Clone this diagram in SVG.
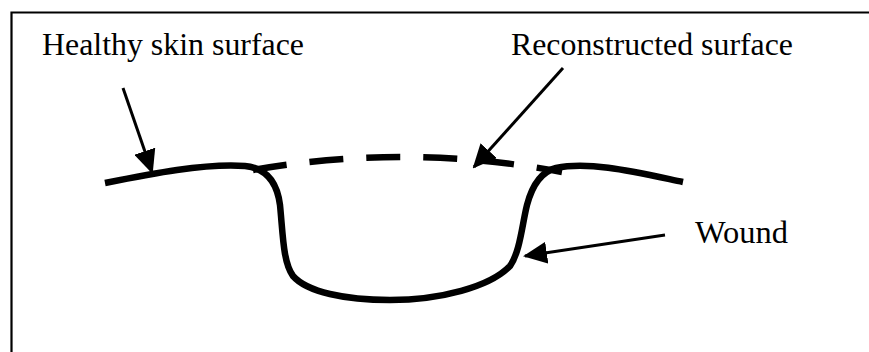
<svg xmlns="http://www.w3.org/2000/svg" width="869" height="352" viewBox="0 0 869 352">
  <style>
    .frame { fill: none; stroke: #000; stroke-width: 2.2; }
    .skin { fill: none; stroke: #000; stroke-width: 6.5; stroke-linecap: butt; stroke-linejoin: round; }
    .dashed { fill: none; stroke: #000; stroke-width: 6.5; stroke-dasharray: 34 23; }
    .pointer { fill: none; stroke: #000; stroke-width: 3; }
    .label { font-family: "Liberation Serif", "Times New Roman", serif; font-size: 32px; fill: #000; }
  </style>
  <defs>
    <marker id="head" markerUnits="userSpaceOnUse" markerWidth="24" markerHeight="22" viewBox="0 0 24 22" refX="22" refY="11" orient="auto">
      <path d="M0,0 L24,11 L0,22 Z" fill="#000"/>
    </marker>
  </defs>

  <rect width="869" height="352" fill="#fff"/>

  <!-- open frame: top and left edges only -->
  <path class="frame" d="M11.5,352 V12.5 H869"/>

  <g id="surface">
    <!-- healthy skin, wound bed, healthy skin -->
    <path class="skin" d="M105,183 C150,174 205,163 245,166 C266,168 277,182 280,205 C283,235 283,262 293,276 C307,292 345,300 390,300 C440,300 490,287 510,266 C520,252 522,225 527,205 C532,186 540,172 556,168 C590,161 635,172 683,182"/>
  </g>

  <g id="reconstructed">
    <path class="dashed" d="M253,170 Q407,143 562,172"/>
  </g>

  <g id="connectors">
    <line class="pointer" x1="123" y1="88" x2="152" y2="172" marker-end="url(#head)"/>
    <line class="pointer" x1="563" y1="68" x2="474" y2="167" marker-end="url(#head)"/>
    <line class="pointer" x1="665" y1="235" x2="525" y2="256" marker-end="url(#head)"/>
  </g>

  <g id="label-healthy">
    <text class="label" x="42" y="55" textLength="262" lengthAdjust="spacingAndGlyphs">Healthy skin surface</text>
  </g>
  <g id="label-reconstructed">
    <text class="label" x="511" y="55" textLength="282" lengthAdjust="spacingAndGlyphs">Reconstructed surface</text>
  </g>
  <g id="label-wound">
    <text class="label" x="695" y="243" textLength="93" lengthAdjust="spacingAndGlyphs">Wound</text>
  </g>
</svg>
